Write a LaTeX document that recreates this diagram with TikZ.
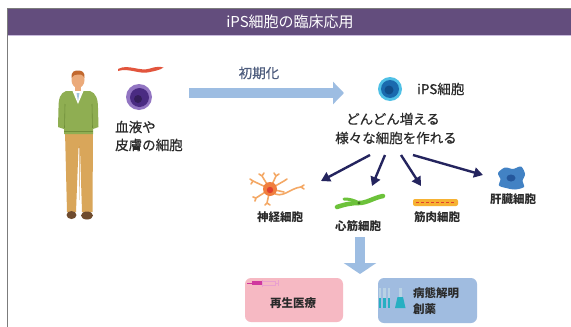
\documentclass[tikz,border=0pt]{standalone}
\usepackage{fontspec}
\setmainfont{Noto Sans CJK JP}
\newfontfamily\medfont{Noto Sans CJK JP}[FakeBold=0.5]
\usetikzlibrary{arrows.meta,calc}

\definecolor{headerpurple}{HTML}{634D7D}
\definecolor{headerrule}{HTML}{C9BBDD}
\definecolor{framegray}{HTML}{7C7C7C}
\definecolor{flowblue}{HTML}{9DBDE2}
\definecolor{navy}{HTML}{24245E}
\definecolor{ink}{HTML}{2A2A2A}
\definecolor{pinkbox}{HTML}{F6B9C3}
\definecolor{bluebox}{HTML}{A0BCE0}
\definecolor{skin}{HTML}{EBAA7A}
\definecolor{hair}{HTML}{C2682E}
\definecolor{sweater}{HTML}{8FAE52}
\definecolor{sweaterdark}{HTML}{6F8E3A}
\definecolor{khaki}{HTML}{D9A65A}
\definecolor{shoe}{HTML}{6E4B2E}
\definecolor{bloodred}{HTML}{E2553D}
\definecolor{cellpurple}{HTML}{9275C2}
\definecolor{cellpurpledark}{HTML}{4A2B82}
\definecolor{ipscyan}{HTML}{4FC0E6}
\definecolor{ipsblue}{HTML}{1A6AAE}
\definecolor{ipsdeep}{HTML}{104E8A}
\definecolor{initink}{HTML}{4E5D7E}
\definecolor{neuronorange}{HTML}{F07E3E}
\definecolor{neuronlight}{HTML}{F4A865}
\definecolor{heartgreen}{HTML}{6CC23A}
\definecolor{musclegold}{HTML}{F6B233}
\definecolor{musclered}{HTML}{E0402E}
\definecolor{liverblue}{HTML}{4282C4}
\definecolor{liverdark}{HTML}{24579C}
\definecolor{syringe}{HTML}{D0389E}
\definecolor{syringelight}{HTML}{E9A0CF}
\definecolor{tubecyan}{HTML}{27AFC2}
\definecolor{tubeglass}{HTML}{B9D2E4}

\tikzset{
  label/.style={text=ink, font=\medfont\fontsize{13.5}{16}\selectfont, inner sep=0pt},
  celllabel/.style={text=ink, font=\bfseries\fontsize{11.5}{14}\selectfont, inner sep=0pt},
  boxlabel/.style={text=ink, font=\bfseries\fontsize{11.5}{15}\selectfont, inner sep=0pt},
  flowarrow/.style={flowblue, line width=10pt,
    -{Triangle[length=11pt,width=22pt]}},
  downarrow/.style={flowblue, line width=10pt,
    -{Triangle[length=11pt,width=32pt]}},
  branch/.style={navy, line width=2.4pt,
    -{Triangle[length=9pt,width=10pt]}},
  usebox/.style={rounded corners=6pt, draw=none},
}

\begin{document}
\begin{tikzpicture}[x=1pt,y=-1pt]
\useasboundingbox (0,0) rectangle (571,327);
\fill[white] (0,0) rectangle (571,327);

% header band and frame
\fill[headerpurple] (8,9) rectangle (571,35);
\draw[headerrule, line width=0.8pt] (8,35.4) -- (571,35.4);
\draw[framegray, line width=1.4pt] (7.5,327) -- (7.5,8.3) -- (571,8.3);
\node[text=white, font=\fontsize{15}{18}\selectfont, inner sep=0pt]
  (title) at (290,21.5) {iPS細胞の臨床応用};

% ---- person ----
% trousers
\fill[khaki] (65,131) -- (93,131) -- (92.5,212) -- (82,212) -- (80,148)
  -- (78.5,148) -- (76,212) -- (67,212) -- cycle;
\draw[khaki!70!brown, line width=0.4pt] (79.3,146) -- (79.5,200);
% shoes
\fill[shoe] (71.5,215) ellipse (5pt and 4pt);
\fill[shoe] (87,215.5) ellipse (6pt and 4pt);
% neck
\fill[skin] (75,85) rectangle (81,93);
% sweater
\fill[sweater] (66,91) -- (90,91) .. controls (96,93) and (98,99) .. (98,108)
  -- (98.5,127) -- (93,129) -- (93,134) -- (64,134) -- (64,129) -- (58,127)
  -- (58.5,108) .. controls (58.5,99) and (60,93) .. (66,91) -- cycle;
\draw[sweaterdark, line width=0.6pt] (65,104) -- (64.5,128);
\draw[sweaterdark, line width=0.6pt] (92,104) -- (92.5,128);
\draw[sweaterdark, line width=0.5pt] (64,131) -- (93,131);
% shirt collar
\fill[white] (72.5,91) -- (83.5,91) -- (78,104) -- cycle;
\fill[ipsblue!40] (76.5,93) -- (79.5,93) -- (78,101) -- cycle;
% head and hair
\fill[skin] (78,80) ellipse (6.5pt and 8pt);
\fill[hair] (71.5,78) .. controls (71,71) and (75,70.5) .. (78,70.5)
  .. controls (82,70.5) and (85,72) .. (84.5,78)
  .. controls (83,74.5) and (80,74) .. (78,74.5)
  .. controls (75,74.5) and (73,75) .. (71.5,78) -- cycle;

% ---- source cells ----
\fill[bloodred] (118,69) .. controls (128,63.5) and (140,72) .. (150,68.5)
  .. controls (156,66.5) and (160,66.5) .. (163.5,67.5)
  .. controls (160,70) and (155,71) .. (150,72)
  .. controls (140,75) and (129,67.5) .. (118,71) -- cycle;
\fill[cellpurple] (139,97) circle (13pt);
\fill[cellpurpledark] (139.5,97.5) circle (9.5pt);
\fill[cellpurpledark!70!black] (138,99) circle (4pt);

\node[label, anchor=west] (src1) at (115,127) {血液や};
\node[label, anchor=west] (src2) at (115,145) {皮膚の細胞};

% ---- reprogramming ----
\coordinate (initstart) at (189,93);
\coordinate (inittip) at (344,93);
\draw[flowarrow] (initstart) -- (inittip);
\node[text=initink, font=\medfont\fontsize{13.5}{16}\selectfont, inner sep=0pt]
  (init) at (259,73) {初期化};

% iPS cell
\fill[ipscyan] (390,89) circle (12pt);
\fill[ipsblue] (390,89) circle (9pt);
\fill[ipsdeep] (389,90) circle (4.5pt);
\node[label, anchor=west] (ips) at (417,89) {iPS細胞};
\node[label] (grow1) at (393,119) {どんどん増える};
\node[label] (grow2) at (396,138) {様々な細胞を作れる};

% ---- differentiation arrows ----
\coordinate (s1) at (370,155);
\coordinate (s2) at (385,155);
\coordinate (s3) at (401,155);
\coordinate (s4) at (413,155);
\coordinate (e1) at (321,181);
\coordinate (e2) at (372,186);
\coordinate (e3) at (421,186);
\coordinate (e4) at (483,175);
\draw[branch] (s1) -- (e1);
\draw[branch] (s2) -- (e2);
\draw[branch] (s3) -- (e3);
\draw[branch] (s4) -- (e4);

% neuron
\begin{scope}[neuronlight, line width=1.6pt, line cap=round]
  \draw (270,189) -- (253,181) (253,181) -- (250,179) (253,181) -- (251,184);
  \draw (270,189) -- (262,176) (262,176) -- (259,174) (262,176) -- (264,173);
  \draw (270,189) -- (276,176) (276,176) -- (274,173) (276,176) -- (279,174);
  \draw (270,189) -- (284,181) (284,181) -- (287,179);
  \draw (270,189) -- (284,192);
  \draw (270,189) -- (256,198) (256,198) -- (253,197) (256,198) -- (255,201);
  \draw (270,189) -- (267,203) (267,203) -- (265,205) (267,203) -- (270,205);
  \draw (272,192) .. controls (282,200) and (290,188) .. (301,187);
  \draw (301,187) -- (304,185) (301,187) -- (304,189);
\end{scope}
\fill[neuronorange] (270,189) circle (7pt);
\fill[musclered] (270,190) circle (3.2pt);

% cardiomyocyte
\draw[heartgreen, line width=4.5pt, line cap=round]
  (337,207) .. controls (346,204) and (352,203) .. (359,203)
  .. controls (367,203) and (373,198) .. (383,196);
\draw[heartgreen, line width=3pt, line cap=round]
  (359,203) .. controls (354,200) and (349,199) .. (344,199);
\fill[heartgreen!60!black] (359,203) circle (1.6pt);

% skeletal muscle fibre
\fill[musclegold, rounded corners=2pt] (413,199) rectangle (458,206);
\draw[musclered, line width=1.2pt, dash pattern=on 3pt off 2pt] (416,202.5) -- (455,202.5);

% hepatocyte
\fill[liverblue] plot[smooth cycle] coordinates {(498,173) (505,167.5) (513,169)
  (521,166.5) (525,174) (522.5,181) (524,187) (515,189.5) (506,188)
  (499,185.5) (500.5,179)};
\fill[liverdark] (511,178) ellipse (4.5pt and 3.5pt);

\node[celllabel] (neuron) at (280,217) {神経細胞};
\node[celllabel] (heart) at (358,226) {心筋細胞};
\node[celllabel] (muscle) at (437,217) {筋肉細胞};
\node[celllabel] (liver) at (513,199) {肝臓細胞};

% ---- applications ----
\coordinate (downstart) at (360,237);
\coordinate (downtip) at (360,274);
\draw[downarrow] (downstart) -- (downtip);

\fill[pinkbox, usebox] (245,278) rectangle (343,322);
\fill[bluebox, usebox] (378,278) rectangle (477,323);

% syringe
\draw[syringe, line width=0.8pt] (247,283) -- (252,283);
\fill[syringe] (252,281) rectangle (262,285);
\draw[syringelight, line width=0.7pt] (262,281) rectangle (275,285);
\draw[syringelight, line width=0.7pt] (262,279.5) -- (262,286.5);
\draw[syringelight, line width=0.8pt] (275,283) -- (278.5,283);
\draw[syringelight, line width=0.9pt] (278.5,280) -- (278.5,286);

\node[boxlabel] (regen) at (293,303) {再生医療};

% test tubes and flask
\foreach \tx in {380,384.5,389} {
  \fill[tubeglass] (\tx-1.4,288) rectangle (\tx+1.4,298);
  \fill[tubecyan] (\tx-1.4,298) rectangle (\tx+1.4,308);
}
\fill[tubeglass] (399,288) rectangle (401.5,297);
\fill[tubecyan] (397.5,297) -- (403,297) -- (405.5,308) -- (395,308) -- cycle;

\node[boxlabel, anchor=west] (drug1) at (413,293) {病態解明};
\node[boxlabel, anchor=west] (drug2) at (413,309) {創薬};
\end{tikzpicture}
\end{document}
